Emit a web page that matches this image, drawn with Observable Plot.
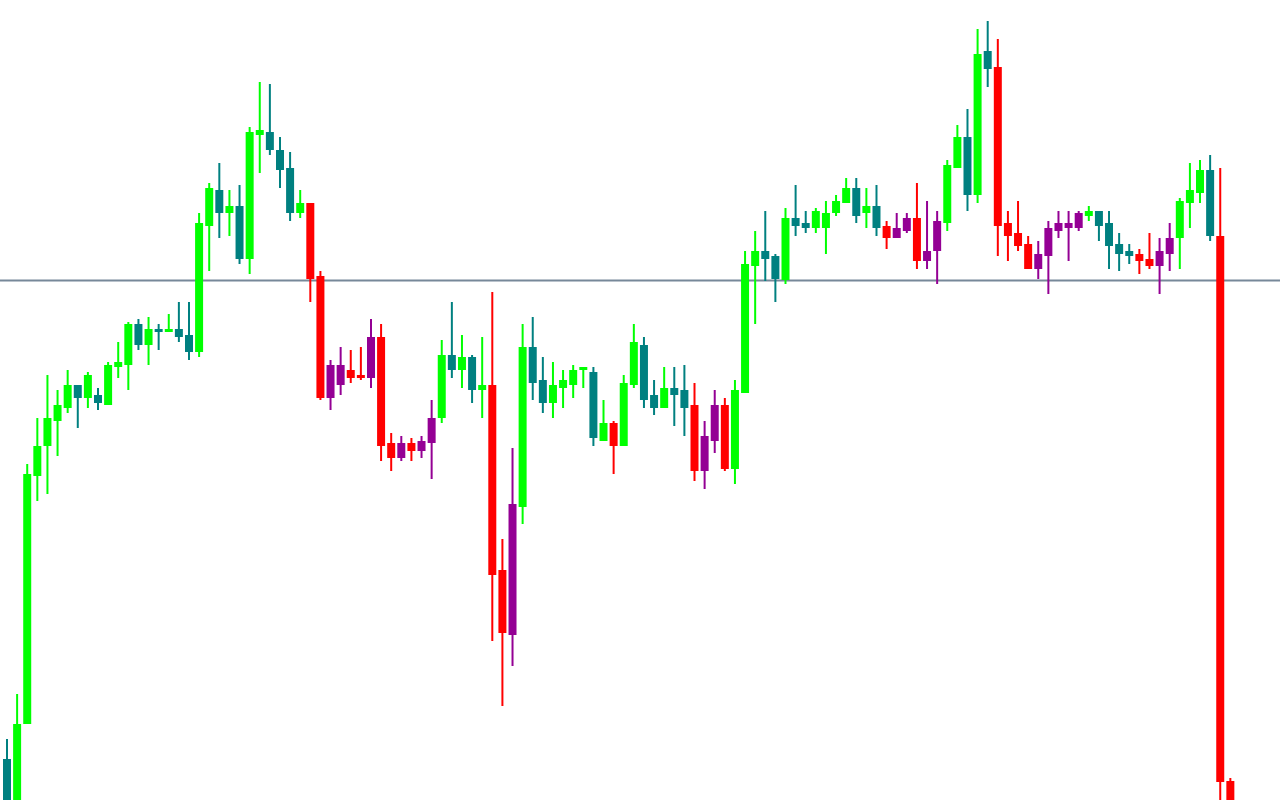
<!DOCTYPE html>
<html>
<head>
<meta charset="utf-8">
<script src="https://cdn.jsdelivr.net/npm/d3@7"></script>
<script src="https://cdn.jsdelivr.net/npm/@observablehq/plot@0.6"></script>
<style>
  html, body { margin: 0; padding: 0; background: #ffffff; overflow: hidden; }
  #chart svg { display: block; }
</style>
</head>
<body>
<div id="chart"></div>
<script>
// Prices in chart points, one entry per bar
const open  = [41,-5,76,324,354,379,392,415,402,405,395,433,435,476,455,471,468,471,465,448,
  574,610,587,594,541,665,668,650,632,587,597,524,402,415,430,425,422,463,357,342,
  357,349,357,382,445,430,443,410,415,230,165,293,453,420,397,412,415,430,428,359,
  377,354,415,455,405,392,412,410,395,329,359,395,331,407,534,549,544,520,582,577,
  572,572,587,597,612,587,594,574,562,569,582,539,549,577,632,663,605,749,733,577,
  567,556,531,544,569,572,572,584,589,577,556,549,546,541,534,546,562,597,607,630,
  564,19];
const high  = [61,106,336,382,425,410,430,415,428,412,438,458,478,481,483,476,486,498,498,587,
  617,637,610,615,673,718,716,663,648,610,597,529,440,453,450,453,481,476,367,364,
  362,364,400,460,498,465,445,463,508,261,352,476,483,443,438,430,435,433,433,400,
  379,425,476,463,420,433,433,435,417,379,410,402,420,549,569,589,546,592,615,589,
  592,599,605,622,622,612,615,579,587,587,617,599,589,640,675,691,771,779,761,589,
  599,564,559,579,589,589,589,594,589,589,567,556,551,567,562,577,602,637,640,645,
  632,22];
const low   = [-10,-10,76,299,306,344,387,372,392,390,395,422,410,450,435,450,468,458,440,443,
  529,562,564,536,526,627,645,612,579,582,498,400,390,405,417,420,412,339,329,339,
  339,342,321,377,422,412,397,382,159,94,134,276,400,387,382,392,402,412,354,359,
  326,354,412,392,385,392,374,364,319,311,347,329,316,407,476,519,498,516,564,567,
  567,546,584,597,577,572,564,551,562,567,531,531,516,569,632,589,597,713,544,539,
  549,531,521,506,562,539,569,579,559,531,529,536,526,531,506,529,531,572,597,559,
  -10,-10];
const close = [-5,76,326,354,382,395,415,402,425,397,435,438,476,455,471,468,471,463,448,577,
  612,587,594,541,668,670,650,630,587,597,521,402,435,435,422,422,463,354,342,357,
  349,359,382,445,430,443,410,415,225,167,296,453,417,397,415,420,430,433,362,377,
  354,417,458,400,392,412,405,392,329,364,395,331,410,536,549,541,521,582,574,572,
  589,587,599,612,584,594,572,562,572,582,539,549,579,635,663,605,746,731,574,564,
  554,531,546,572,577,577,587,589,574,554,546,544,539,534,549,562,599,610,630,564,
  18,-10];
// Trend state per bar: "u" = up-trend, "d" = down-trend
const trend = ("uuuuuuuuuuuuuuuuuuuuuuuuuuuuuu" + "ddddddddddddd" + "uuuuu" + "ddd" +
  "uuuuuuuuu" + "d" + "uuuuuuu" + "dddd" + "uuuuuuuuuuuuuuu" + "dddddd" + "uuuuu" +
  "ddddddddd" + "uuuuu" + "dddd" + "uuuu" + "dd").split("");
const level = [520];
const palette = {upBull: "#00ff00", upBear: "#008080", downBear: "#ff0000", downBull: "#940094"};

const bars = open.map((o, i) => {
  const bull = close[i] >= o;
  const t = trend[i];
  const color = t === "u" ? (bull ? palette.upBull : palette.upBear) : (bull ? palette.downBull : palette.downBear);
  return {i, open: o, high: high[i], low: low[i], close: close[i], color};
});

const chart = Plot.plot({
  width: 1280,
  height: 800,
  margin: 0,
  style: {background: "#ffffff", overflow: "hidden"},
  x: {type: "linear", domain: [-0.643, 125.96], axis: null},
  y: {domain: [0, 800], axis: null},
  color: {type: "identity"},
  marks: [
    Plot.ruleY(level, {stroke: "#778899", strokeWidth: 2}),
    Plot.ruleX(bars, {x: "i", y1: "low", y2: "high", stroke: "color", strokeWidth: 2, clip: true}),
    Plot.ruleX(bars, {x: "i", y1: "open", y2: "close", stroke: "color", strokeWidth: 8, clip: true})
  ]
});
document.getElementById("chart").appendChild(chart);
</script>
</body>
</html>
